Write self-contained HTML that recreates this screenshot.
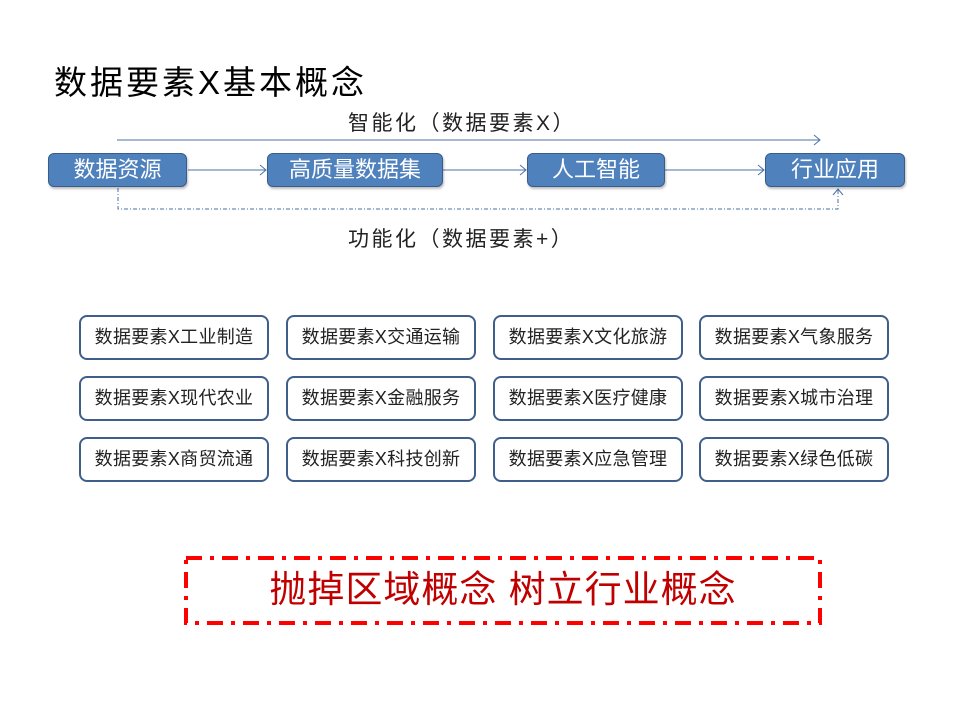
<!DOCTYPE html>
<html><head><meta charset="utf-8"><style>
body{margin:0;width:960px;height:720px;background:#fff;position:relative;overflow:hidden;font-family:"Liberation Sans","Noto Sans CJK SC",sans-serif}
.a{position:absolute}
.n{position:absolute;top:153px;height:32px;background:#4f81bd;border:1.5px solid #385d8a;border-radius:6px;color:#fff;font-size:22px;line-height:32px;text-align:center;box-shadow:1px 2px 2px rgba(0,0,0,.25)}
.g{position:absolute;width:186px;height:41px;border:2.5px solid #3f5f8a;border-radius:8px;font-size:18px;line-height:41px;text-align:center;color:#222;letter-spacing:0.3px}
</style></head><body>
<div class="a" style="left:54px;top:56px;font-size:33px;letter-spacing:3px;color:#000">数据要素X基本概念</div>
<div class="a" style="left:348px;top:107px;font-size:21px;letter-spacing:2.5px;color:#222">智能化（数据要素X）</div>
<div class="a" style="left:348px;top:223px;font-size:21px;letter-spacing:2.5px;color:#222">功能化（数据要素+）</div>
<svg class="a" style="left:0;top:0" width="960" height="720">
<g stroke="#4a72a8" stroke-width="1" fill="none">
<line x1="117" y1="140" x2="820" y2="140"/><polyline points="814,135 820,140 814,145"/>
<line x1="188" y1="170" x2="266" y2="170"/><polyline points="260,165 266,170 260,175"/>
<line x1="443" y1="170" x2="526" y2="170"/><polyline points="520,165 526,170 520,175"/>
<line x1="665" y1="170" x2="764" y2="170"/><polyline points="758,165 764,170 758,175"/>
<polyline points="118,188 118,209 838,209 838,190" stroke-dasharray="4,2,1,2"/><polyline points="833,195 838,189 843,195"/>
</g>
<rect x="186" y="558" width="634" height="65" fill="none" stroke="#f00" stroke-width="4" stroke-dasharray="16,8,4,8"/>
</svg>
<div class="n" style="left:48px;width:137px">数据资源</div>
<div class="n" style="left:267px;width:174px">高质量数据集</div>
<div class="n" style="left:527px;width:136px">人工智能</div>
<div class="n" style="left:765px;width:138px">行业应用</div>
<div class="g" style="left:79px;top:315px">数据要素X工业制造</div>
<div class="g" style="left:286px;top:315px">数据要素X交通运输</div>
<div class="g" style="left:493px;top:315px">数据要素X文化旅游</div>
<div class="g" style="left:699px;top:315px">数据要素X气象服务</div>
<div class="g" style="left:79px;top:376px">数据要素X现代农业</div>
<div class="g" style="left:286px;top:376px">数据要素X金融服务</div>
<div class="g" style="left:493px;top:376px">数据要素X医疗健康</div>
<div class="g" style="left:699px;top:376px">数据要素X城市治理</div>
<div class="g" style="left:79px;top:437px">数据要素X商贸流通</div>
<div class="g" style="left:286px;top:437px">数据要素X科技创新</div>
<div class="g" style="left:493px;top:437px">数据要素X应急管理</div>
<div class="g" style="left:699px;top:437px">数据要素X绿色低碳</div>
<div class="a" style="left:186px;top:566px;width:634px;text-align:center;font-size:37px;letter-spacing:1px;color:#c00000;line-height:48px">抛掉区域概念 树立行业概念</div>
</body></html>
